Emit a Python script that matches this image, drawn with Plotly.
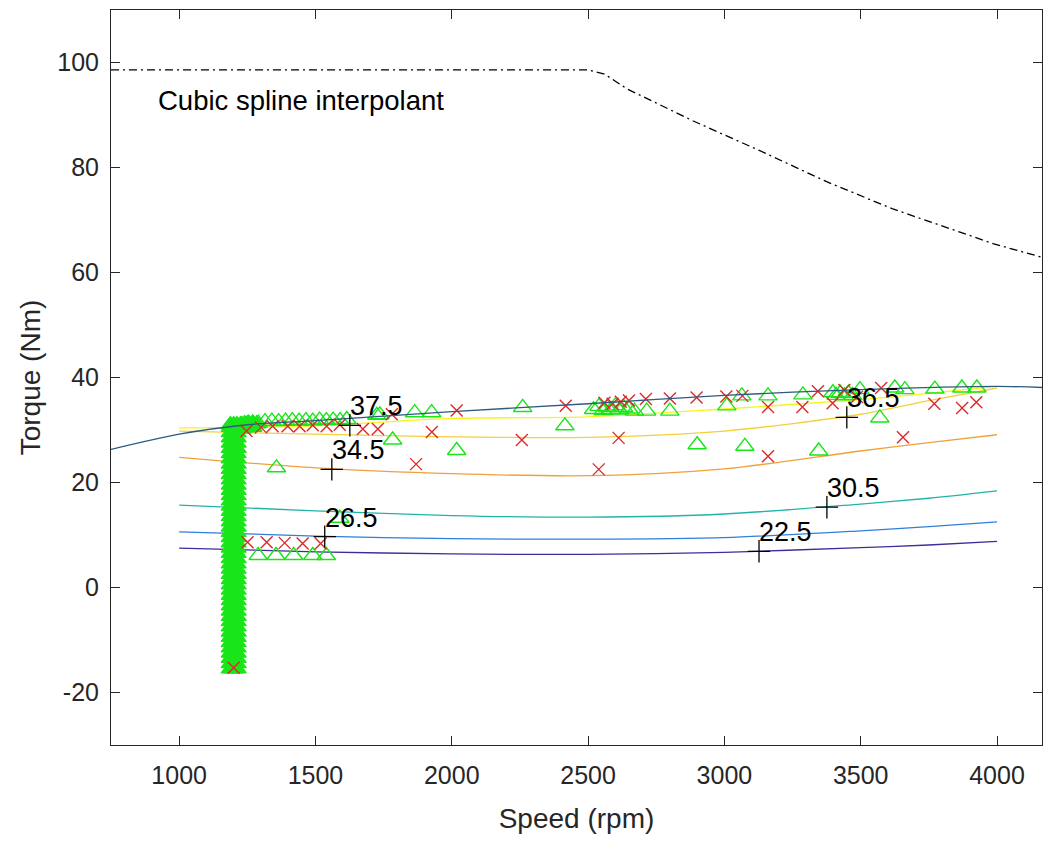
import plotly.graph_objects as go

# ---- data ------------------------------------------------------------------
# contour lines (speed, torque) with their level labels
contour_speed = [1000, 1500, 2000, 2500, 3000, 3500, 3750, 4000]
contour_levels = ["22.5", "26.5", "30.5", "34.5", "36.5", "37.5"]
contour_colors = ["#3b2f9c", "#2f7fdc", "#22b3a8", "#f0a23a", "#f3d13a", "#f7f41c"]
contour_torque = [
    [7.5, 6.8, 6.4, 6.3, 6.7, 7.6, 8.1, 8.8],
    [10.6, 9.8, 9.3, 9.2, 9.5, 10.8, 11.6, 12.5],
    [15.7, 14.6, 13.7, 13.4, 14.0, 15.9, 17.0, 18.4],
    [24.8, 22.8, 21.7, 21.3, 22.6, 26.0, 27.6, 29.1],
    [29.8, 29.2, 28.7, 28.6, 29.8, 33.0, 35.6, 38.0],
    [30.4, 30.8, 32.2, 32.5, 34.0, 35.8, 37.0, 38.3],
]
label_speed = [3127, 1534, 3376, 1560, 3449, 1626]
label_torque = [6.9, 9.7, 15.3, 22.5, 32.4, 30.9]

# max torque envelope (dash-dot)
envelope_speed = [750, 2500, 2560, 2642, 2884, 3130, 3375, 3618, 3864, 3985, 4165]
envelope_torque = [98.6, 98.6, 97.8, 95.0, 88.9, 83.2, 77.3, 72.1, 67.7, 65.5, 62.9]

# spline fitted limit curve
limit_speed = [750, 1000, 1250, 1500, 2000, 2500, 3000, 3500, 4000, 4165]
limit_torque = [26.3, 29.2, 31.0, 31.8, 33.5, 35.0, 36.6, 37.7, 38.3, 38.1]

# measured points (green triangles); the dense sweep at ~1200 rpm draws as a solid block
column_speed = [1188, 1200, 1212]
column_torque = [-15.5, -14.5, -13.5, -12.5, -11.5, -10.5, -9.5, -8.5, -7.5, -6.5,
                 -5.5, -4.5, -3.5, -2.5, -1.5, -0.5, 0.5, 1.5, 2.5, 3.5, 4.5, 5.5,
                 6.5, 7.5, 8.5, 9.5, 10.5, 11.5, 12.5, 13.5, 14.5, 15.5, 16.5, 17.5,
                 18.5, 19.5, 20.5, 21.5, 22.5, 23.5, 24.5, 25.5, 26.5, 27.5, 28.5,
                 29.5, 30.5, 31.0]
blob_speed = [1225, 1240, 1255, 1270, 1285, 1230, 1250, 1270]
blob_torque = [31.0, 31.2, 31.3, 31.3, 31.2, 30.2, 30.4, 30.5]
tri_speed = [1230, 1250, 1270, 1290, 1315, 1340, 1365, 1390, 1415, 1440, 1465, 1490,
             1515, 1540, 1565, 1590, 1615, 1725, 1736, 1864, 1926, 2260, 2415, 1357,
             1783, 2018, 1589, 2520, 2540, 2555, 2570, 2585, 2600, 2615, 2630, 2650,
             2670, 2715, 2800, 2900, 3009, 3064, 3075, 3160, 3288, 3346, 3398, 3410,
             3425, 3440, 3455, 3470, 3497, 3570, 3625, 3662, 3772, 3871, 3926,
             1290, 1355, 1420, 1490, 1540]
tri_torque = [31.0, 31.2, 31.3, 31.3, 31.6, 31.7, 31.6, 31.7, 31.8, 31.7, 31.8, 31.7,
              31.9, 31.8, 31.9, 31.8, 32.0, 32.8, 32.9, 33.3, 33.3, 34.3, 30.8, 22.8,
              28.1, 26.1, 13.2, 33.9, 34.5, 33.7, 34.3, 33.9, 34.6, 33.8, 34.3, 34.0,
              33.6, 33.6, 33.6, 27.2, 34.6, 36.5, 26.9, 36.5, 36.7, 26.0, 37.1, 36.6,
              37.0, 36.5, 37.0, 36.6, 37.7, 32.3, 38.0, 37.7, 37.8, 38.0, 38.0,
              6.1, 6.1, 6.1, 6.1, 6.1]

# model points (red crosses)
cross_speed = [1247, 1300, 1343, 1398, 1442, 1490, 1541, 1589, 1674, 1729, 1780, 1869,
               1927, 2018, 2257, 2418, 2539, 2612, 2560, 2590, 2620, 2650, 2712, 2800,
               2898, 3007, 3066, 3160, 3160, 3286, 3343, 3397, 3440, 3486, 3575, 3655,
               3770, 3872, 3924, 1251, 1321, 1387, 1453, 1519, 1200]
cross_torque = [29.8, 30.5, 30.7, 30.7, 30.7, 30.9, 30.7, 31.0, 30.2, 30.2, 33.0, 23.5,
                29.6, 33.7, 28.1, 34.6, 22.5, 28.5, 35.2, 35.0, 35.4, 35.6, 35.9, 36.0,
                36.2, 36.4, 36.5, 34.4, 25.0, 34.4, 37.4, 35.1, 37.6, 36.3, 38.0, 28.6,
                35.0, 34.2, 35.3, 8.6, 8.6, 8.5, 8.4, 8.4, -15.3]

x_ticks = [1000, 1500, 2000, 2500, 3000, 3500, 4000]
y_ticks = [-20, 0, 20, 40, 60, 80, 100]
y_ticktext = ["-20", "0", "20", "40", "60", "80", "100"]

AXIS_COLOR = "#262626"
GREEN = "#19e619"
FONT = "Liberation Sans, Arial, sans-serif"

fig = go.Figure()

fig.add_trace(go.Scatter(
    x=envelope_speed, y=envelope_torque, mode="lines",
    line=dict(color="black", width=1.3, dash="8px,4px,2px,4px"), showlegend=False))

for level, color, torque in zip(contour_levels, contour_colors, contour_torque):
    fig.add_trace(go.Scatter(
        x=contour_speed, y=torque, mode="lines", name=level,
        line=dict(color=color, width=1.3, shape="spline", smoothing=0.8), showlegend=False))

col_x = [s for t in column_torque for s in column_speed] + blob_speed
col_y = [t for t in column_torque for s in column_speed] + blob_torque
fig.add_trace(go.Scatter(
    x=col_x, y=col_y, mode="markers",
    marker=dict(symbol="triangle-up", size=16, color=GREEN, line=dict(width=1.4, color=GREEN)),
    showlegend=False))

fig.add_trace(go.Scatter(
    x=tri_speed, y=tri_torque, mode="markers",
    marker=dict(symbol="triangle-up-open", size=16, color=GREEN, line=dict(width=1.4)),
    showlegend=False))

fig.add_trace(go.Scatter(
    x=cross_speed, y=cross_torque, mode="markers",
    marker=dict(symbol="x-thin-open", size=12, color="#dc2a2a", line=dict(width=1.4, color="#dc2a2a")),
    showlegend=False))

fig.add_trace(go.Scatter(
    x=limit_speed, y=limit_torque, mode="lines",
    line=dict(color="#2d5a80", width=1.3, shape="spline", smoothing=0.8), showlegend=False))

fig.add_trace(go.Scatter(
    x=label_speed, y=label_torque, mode="markers",
    marker=dict(symbol="cross-thin-open", size=16, color="black", line=dict(width=1.3, color="black")),
    showlegend=False))

for level, sx, ty in zip(contour_levels, label_speed, label_torque):
    fig.add_annotation(x=sx, y=ty, text=level, showarrow=False, xanchor="left",
                       yanchor="bottom", xshift=-2, yshift=2,
                       font=dict(family=FONT, size=27, color="black"))

fig.add_annotation(x=915, y=92.7, text="Cubic spline interpolant", showarrow=False,
                   xanchor="left", yanchor="middle",
                   font=dict(family=FONT, size=27.5, color="black"))

axis_common = dict(
    showline=True, linecolor=AXIS_COLOR, linewidth=1, mirror="ticks",
    ticks="inside", ticklen=9, tickwidth=1, tickcolor=AXIS_COLOR,
    showgrid=False, zeroline=False,
    tickfont=dict(family=FONT, size=25, color=AXIS_COLOR),
)
fig.update_xaxes(range=[750, 4165], tickvals=x_ticks,
                 title=dict(text="Speed (rpm)", font=dict(family=FONT, size=28, color=AXIS_COLOR), standoff=20),
                 ticklabelstandoff=8, **axis_common)
fig.update_yaxes(range=[-30, 110], tickvals=y_ticks, ticktext=y_ticktext,
                 title=dict(text="Torque (Nm)", font=dict(family=FONT, size=28, color=AXIS_COLOR), standoff=8),
                 ticklabelstandoff=6, **axis_common)

fig.update_layout(
    width=1049, height=843,
    margin=dict(l=111, r=7, t=10, b=98, autoexpand=False),
    paper_bgcolor="white", plot_bgcolor="white",
    font=dict(family=FONT),
)

# page body has an 8px default margin; drop it so the figure sits at the window origin
fig.write_html("out.html", config={"displayModeBar": False},
               post_script="document.body.style.margin='0';")
